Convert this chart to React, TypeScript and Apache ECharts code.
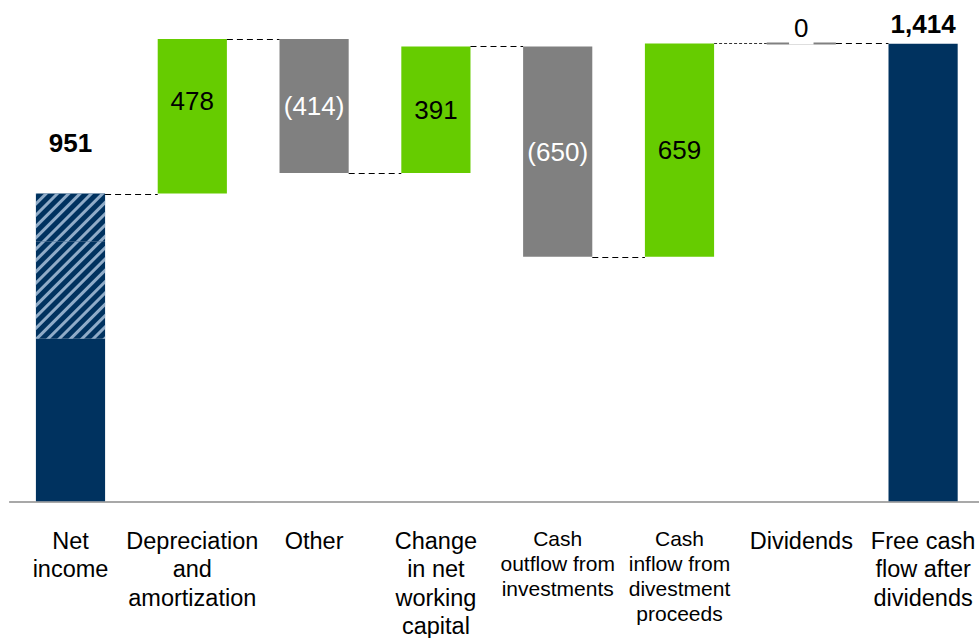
import React, { useEffect, useRef } from "react";
import * as echarts from "echarts";

const categories = [
  "Net\nincome",
  "Depreciation\nand\namortization",
  "Other",
  "Change\nin net\nworking\ncapital",
  "Cash\noutflow from\ninvestments",
  "Cash\ninflow from\ndivestment\nproceeds",
  "Dividends",
  "Free cash\nflow after\ndividends",
];
// signed flows for the first seven columns
const flows = [951, 478, -414, 391, -650, 659, 0];
const freeCashFlow = 1414;
// net income bar: solid part, hatched parts
const netIncomeParts = [502, 302, 147];
const smallLabelIdx = [4, 5];

const NAVY = "#00325F";
const GREEN = "#66CC00";
const GRAY = "#808080";
const FONT = "'Liberation Sans', Arial, sans-serif";
const BAR_FRAC = 0.568;

export default function App() {
  const ref = useRef<HTMLDivElement>(null);
  useEffect(() => {
    if (!ref.current) return;
    const chart = echarts.init(ref.current, null, { renderer: "svg" });

    const n = categories.length;
    const starts: number[] = [];
    const ends: number[] = [];
    let run = 0;
    flows.forEach((f, i) => {
      starts.push(i === 0 ? 0 : run);
      run += f;
      ends.push(run);
    });

    const labelFont = { fontFamily: FONT, fontSize: 26, lineHeight: 26 };

    const base: any[] = [];
    const deltaData: any[] = [];
    for (let i = 0; i < n; i++) {
      if (i === 0 || i === n - 1) {
        base.push(0);
        deltaData.push("-");
      } else {
        base.push(Math.min(starts[i], ends[i]));
        const f = flows[i];
        const neg = f < 0;
        const zero = f === 0;
        deltaData.push({
          value: Math.abs(f),
          itemStyle: {
            color: zero ? "transparent" : neg ? GRAY : GREEN,
            borderColor: zero ? GRAY : undefined,
            borderWidth: zero ? 2 : 0,
          },
          label: zero
            ? {
                show: true,
                position: "top",
                distance: 0,
                offset: [0, 2],
                color: "#000",
                backgroundColor: "#fff",
                padding: [0, 5, 3, 5],
                formatter: "0",
              }
            : {
                show: true,
                position: "inside",
                color: neg ? "#fff" : "#000",
                offset: i === 1 ? [0, -15] : [0, 0],
                formatter: neg ? `(${Math.abs(f)})` : `${f}`,
              },
        });
      }
    }

    const oneAt = (idx: number, v: number) =>
      categories.map((_, i) => (i === idx ? v : "-"));

    // connectors: [fromIndex, level, dotted]
    const connectors: number[][] = [];
    for (let i = 0; i < n - 1; i++) {
      const level = i < flows.length ? ends[i] : freeCashFlow;
      connectors.push([i, level, i === 5 ? 1 : 0]);
    }

    const hatch = {
      symbol: "rect",
      color: "rgba(160,185,212,0.9)",
      dashArrayX: [1, 0],
      dashArrayY: [3, 5],
      rotation: -Math.PI / 4,
    };

    chart.setOption({
      animation: false,
      grid: { left: 9.6, right: 0, top: 16, bottom: 135, containLabel: false },
      xAxis: {
        type: "category",
        data: categories,
        axisLine: { lineStyle: { color: "#8c8c8c", width: 1.5 } },
        axisTick: { show: false },
        axisLabel: {
          interval: 0,
          margin: 25,
          color: "#000",
          fontFamily: FONT,
          formatter: (v: string, idx: number) => {
            const k = smallLabelIdx.includes(idx) ? "s" : "n";
            return v
              .split("\n")
              .map((l) => `{${k}|${l}}`)
              .join("\n");
          },
          rich: {
            n: { fontSize: 23.5, lineHeight: 28.5, fontFamily: FONT, color: "#000" },
            s: { fontSize: 21, lineHeight: 25, fontFamily: FONT, color: "#000" },
          },
        },
      },
      yAxis: {
        type: "value",
        min: 0,
        max: 1500,
        show: false,
        splitLine: { show: false },
      },
      series: [
        {
          type: "bar",
          stack: "w",
          barWidth: BAR_FRAC * 100 + "%",
          itemStyle: { color: "transparent" },
          data: base,
          silent: true,
        },
        {
          type: "bar",
          stack: "w",
          itemStyle: { color: NAVY },
          data: oneAt(0, netIncomeParts[0]),
        },
        {
          type: "bar",
          stack: "w",
          itemStyle: { color: NAVY, decal: hatch },
          data: oneAt(0, netIncomeParts[1]),
        },
        {
          type: "bar",
          stack: "w",
          itemStyle: { color: NAVY, decal: hatch },
          label: {
            show: true,
            position: "top",
            distance: 38,
            color: "#000",
            fontWeight: "bold",
            ...labelFont,
            formatter: () => `${flows[0]}`,
          },
          data: oneAt(0, netIncomeParts[2]),
        },
        {
          type: "bar",
          stack: "w",
          label: { ...labelFont },
          data: deltaData,
        },
        {
          type: "bar",
          stack: "w",
          itemStyle: { color: NAVY },
          label: {
            show: true,
            position: "top",
            distance: 7,
            color: "#000",
            fontWeight: "bold",
            ...labelFont,
            formatter: (p: any) => p.value.toLocaleString("en-US"),
          },
          data: oneAt(n - 1, freeCashFlow),
        },
        {
          type: "custom",
          z: 5,
          silent: true,
          encode: { x: 0, y: 1 },
          data: connectors,
          renderItem: (params: any, api: any) => {
            const i = api.value(0);
            const level = api.value(1);
            const dotted = api.value(2) === 1;
            const band = api.size([1, 0])[0];
            const half = (band * BAR_FRAC) / 2;
            const p0 = api.coord([i, level]);
            const p1 = api.coord([i + 1, level]);
            const y = Math.round(p0[1]) + 0.5;
            return {
              type: "line",
              shape: { x1: p0[0] + half, y1: y, x2: p1[0] - half, y2: y },
              style: {
                stroke: dotted ? "#333" : "#000",
                lineWidth: 1,
                lineDash: dotted ? [3, 2] : [6, 4],
              },
            };
          },
        },
      ],
    });
    return () => chart.dispose();
  }, []);
  return (
    <div
      style={{
        position: "absolute",
        left: 0,
        top: 0,
        width: 979,
        height: 638,
        overflow: "hidden",
      }}
    >
      <div ref={ref} style={{ width: 984, height: 638 }} />
    </div>
  );
}
